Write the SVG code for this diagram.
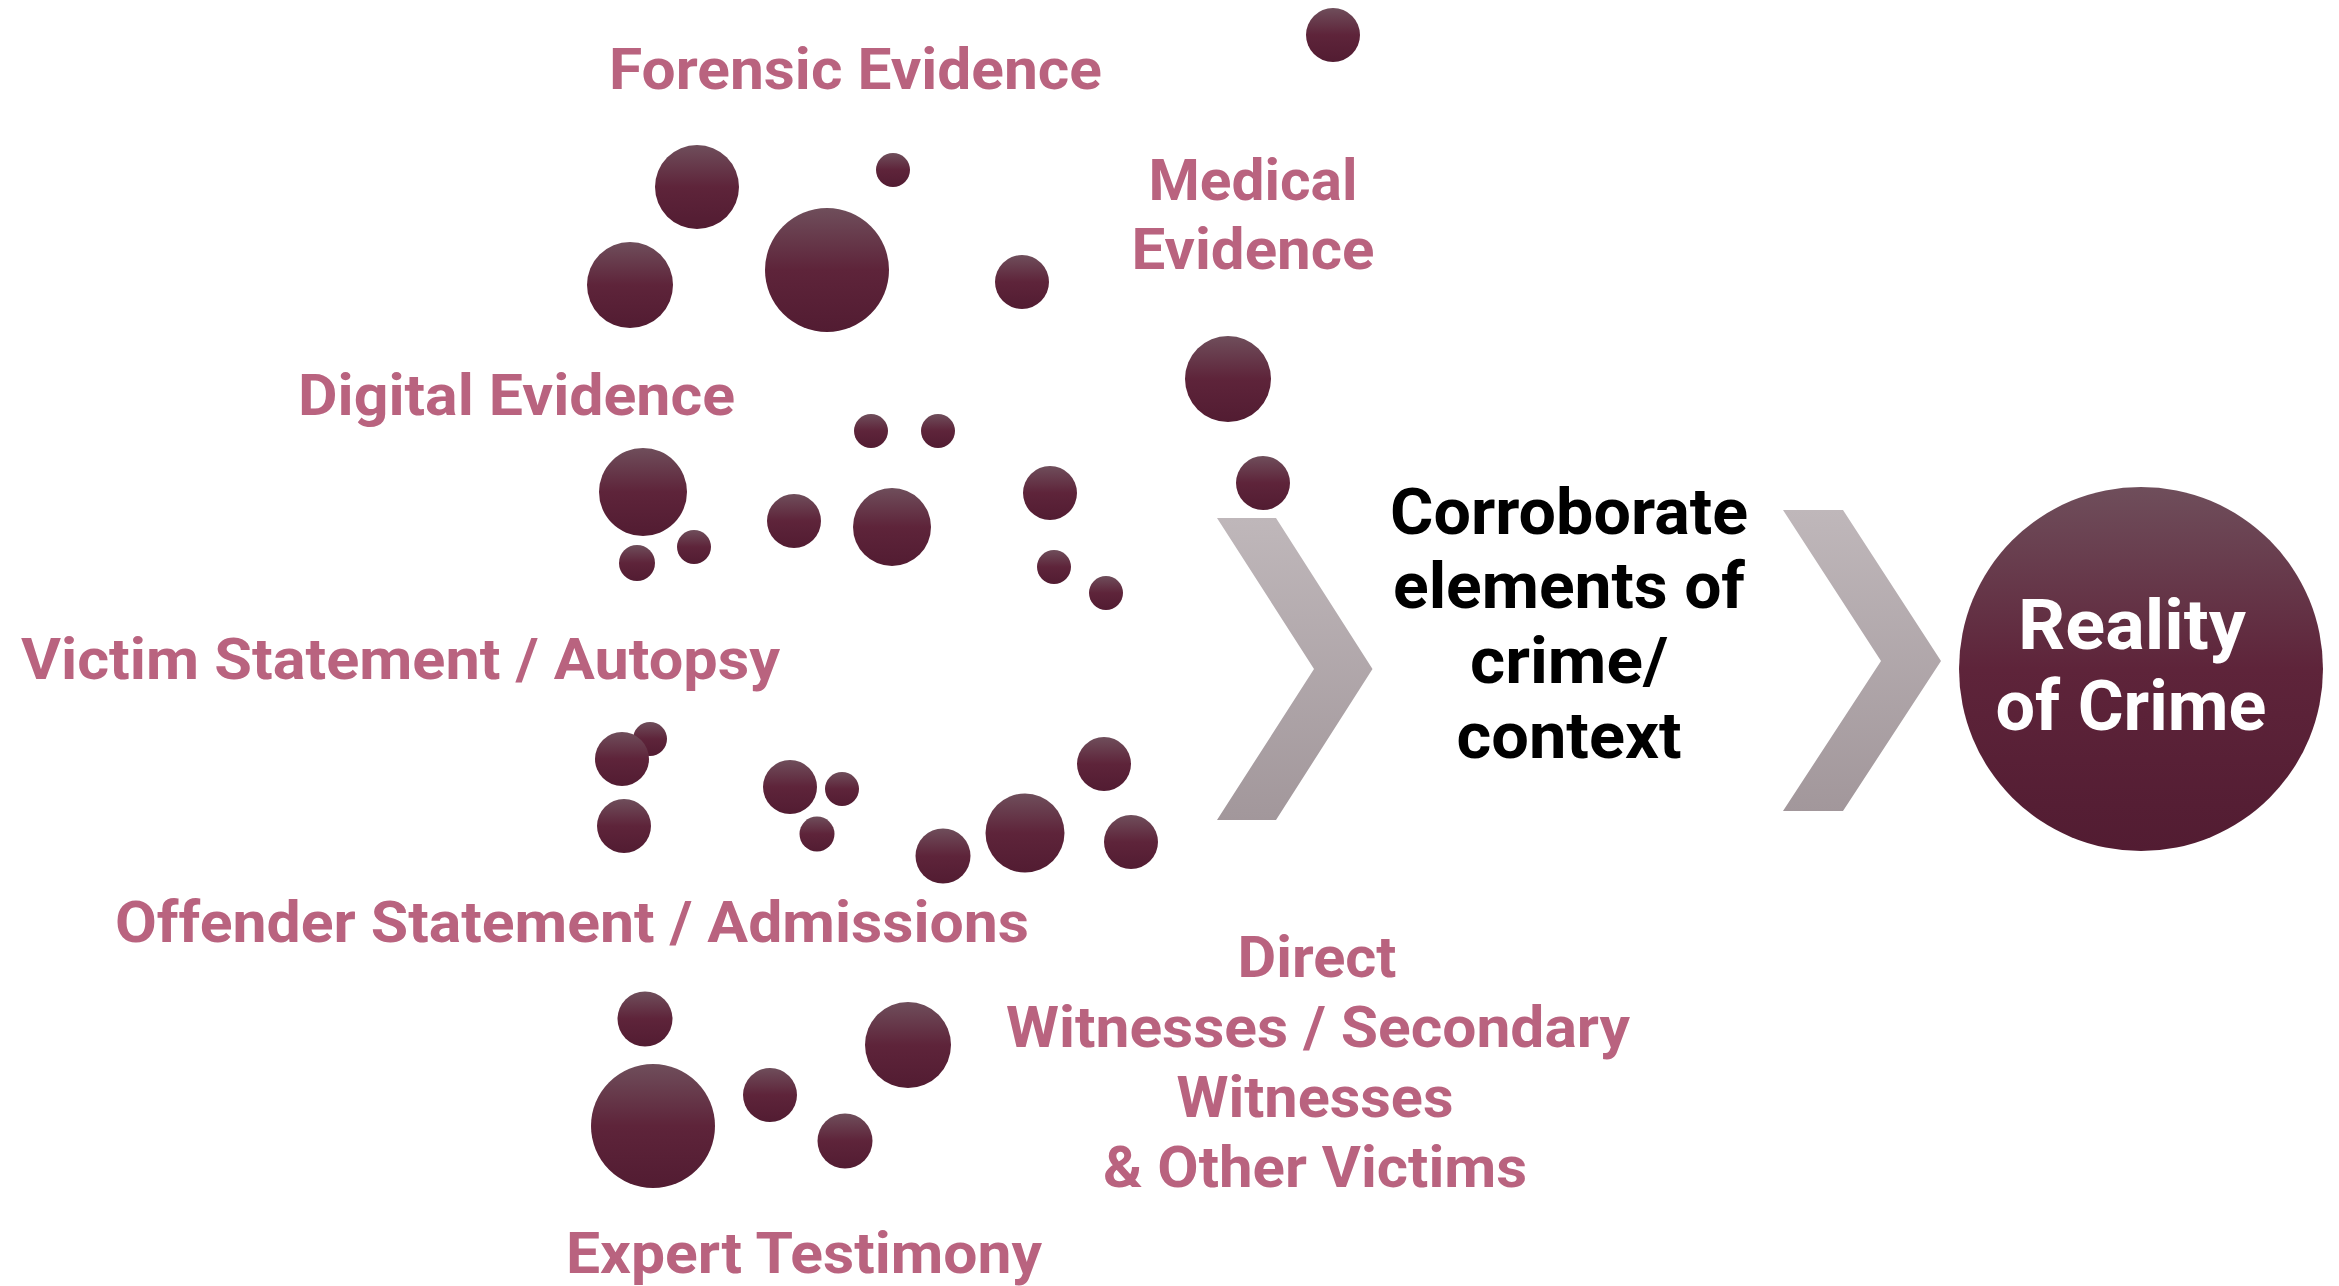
<svg xmlns="http://www.w3.org/2000/svg" width="2339" height="1286" viewBox="0 0 2339 1286">
  <defs>
    <linearGradient id="dot" x1="0" y1="0" x2="0" y2="1">
      <stop offset="0" stop-color="#6f4e5b"/>
      <stop offset="0.5" stop-color="#5e243a"/>
      <stop offset="1" stop-color="#521c32"/>
    </linearGradient>
    <linearGradient id="chev" x1="0" y1="0" x2="0" y2="1">
      <stop offset="0" stop-color="#bfb7ba"/>
      <stop offset="1" stop-color="#a2979b"/>
    </linearGradient>
    <style>
      .dot { fill: url(#dot); }
      .lbl { font-family: Roboto, "Liberation Sans", sans-serif; font-weight: 700; font-size: 58px; fill: #b9637f; }
      .mid { font-family: Roboto, "Liberation Sans", sans-serif; font-weight: 700; font-size: 65px; fill: #000000; text-anchor: middle; }
      .res { font-family: Roboto, "Liberation Sans", sans-serif; font-weight: 700; font-size: 70px; fill: #ffffff; text-anchor: middle; }
      .c { text-anchor: middle; }
      .chev { fill: url(#chev); }
    </style>
  </defs>
  <rect width="2339" height="1286" fill="#ffffff"/>

  <g id="forensic-evidence">
    <text class="lbl" x="609" y="89" textLength="493" lengthAdjust="spacingAndGlyphs">Forensic Evidence</text>
    <circle class="dot" cx="697" cy="187" r="42"/>
    <circle class="dot" cx="893" cy="170" r="17"/>
    <circle class="dot" cx="630" cy="285" r="43"/>
    <circle class="dot" cx="827" cy="270" r="62"/>
    <circle class="dot" cx="1022" cy="282" r="27"/>
  </g>

  <g id="medical-evidence">
    <circle class="dot" cx="1333" cy="35" r="27"/>
    <text class="lbl c" x="1253" y="200" textLength="209" lengthAdjust="spacingAndGlyphs">Medical</text>
    <text class="lbl c" x="1253" y="269" textLength="243" lengthAdjust="spacingAndGlyphs">Evidence</text>
    <circle class="dot" cx="1228" cy="379" r="43"/>
    <circle class="dot" cx="1263" cy="483" r="27"/>
  </g>

  <g id="digital-evidence">
    <text class="lbl" x="298" y="415" textLength="437" lengthAdjust="spacingAndGlyphs">Digital Evidence</text>
    <circle class="dot" cx="871" cy="431" r="17"/>
    <circle class="dot" cx="938" cy="431" r="17"/>
    <circle class="dot" cx="643" cy="492" r="44"/>
    <circle class="dot" cx="637" cy="563" r="18"/>
    <circle class="dot" cx="694" cy="547" r="17"/>
    <circle class="dot" cx="794" cy="521" r="27"/>
    <circle class="dot" cx="892" cy="527" r="39"/>
    <circle class="dot" cx="1050" cy="493" r="27"/>
    <circle class="dot" cx="1054" cy="567" r="17"/>
    <circle class="dot" cx="1106" cy="593" r="17"/>
  </g>

  <g id="victim-statement">
    <text class="lbl" x="21" y="679" textLength="759" lengthAdjust="spacingAndGlyphs">Victim Statement / Autopsy</text>
    <circle class="dot" cx="650" cy="739" r="17"/>
    <circle class="dot" cx="622" cy="759" r="27"/>
    <circle class="dot" cx="624" cy="826" r="27"/>
    <circle class="dot" cx="790" cy="787" r="27"/>
    <circle class="dot" cx="842" cy="789" r="17"/>
    <circle class="dot" cx="817" cy="834" r="17.5"/>
    <circle class="dot" cx="943" cy="856" r="27.5"/>
    <circle class="dot" cx="1025" cy="833" r="39.5"/>
    <circle class="dot" cx="1104" cy="764" r="27"/>
    <circle class="dot" cx="1131" cy="842" r="27"/>
  </g>

  <g id="offender-statement">
    <text class="lbl" x="115" y="942" textLength="914" lengthAdjust="spacingAndGlyphs">Offender Statement / Admissions</text>
    <circle class="dot" cx="645" cy="1019" r="27.5"/>
    <circle class="dot" cx="653" cy="1126" r="62"/>
    <circle class="dot" cx="770" cy="1095" r="27"/>
    <circle class="dot" cx="845" cy="1141" r="27.5"/>
    <circle class="dot" cx="908" cy="1045" r="43"/>
  </g>

  <g id="expert-testimony">
    <text class="lbl" x="566" y="1273" textLength="476" lengthAdjust="spacingAndGlyphs">Expert Testimony</text>
  </g>

  <g id="witnesses">
    <text class="lbl c" x="1317" y="977" textLength="159" lengthAdjust="spacingAndGlyphs">Direct</text>
    <text class="lbl c" x="1318" y="1047" textLength="624" lengthAdjust="spacingAndGlyphs">Witnesses / Secondary</text>
    <text class="lbl c" x="1315" y="1117" textLength="277" lengthAdjust="spacingAndGlyphs">Witnesses</text>
    <text class="lbl c" x="1315" y="1187" textLength="424" lengthAdjust="spacingAndGlyphs">&amp; Other Victims</text>
  </g>

  <g id="connectors">
    <polygon class="chev" points="1217,518 1276,518 1372.5,669 1276,820 1217,820 1314,669"/>
    <polygon class="chev" points="1783,510 1843,510 1941,661 1843,811 1783,811 1881,661"/>
  </g>

  <g id="corroborate">
    <text class="mid" x="1569" y="534" textLength="358" lengthAdjust="spacingAndGlyphs">Corroborate</text>
    <text class="mid" x="1569" y="608" textLength="352" lengthAdjust="spacingAndGlyphs">elements of</text>
    <text class="mid" x="1569" y="683" textLength="198" lengthAdjust="spacingAndGlyphs">crime/</text>
    <text class="mid" x="1569" y="758" textLength="225" lengthAdjust="spacingAndGlyphs">context</text>
  </g>

  <g id="reality-of-crime">
    <circle cx="2141" cy="669" r="182" fill="url(#dot)"/>
    <text class="res" x="2132" y="649" textLength="228" lengthAdjust="spacingAndGlyphs">Reality</text>
    <text class="res" x="2131" y="730" textLength="271" lengthAdjust="spacingAndGlyphs">of Crime</text>
  </g>
</svg>
